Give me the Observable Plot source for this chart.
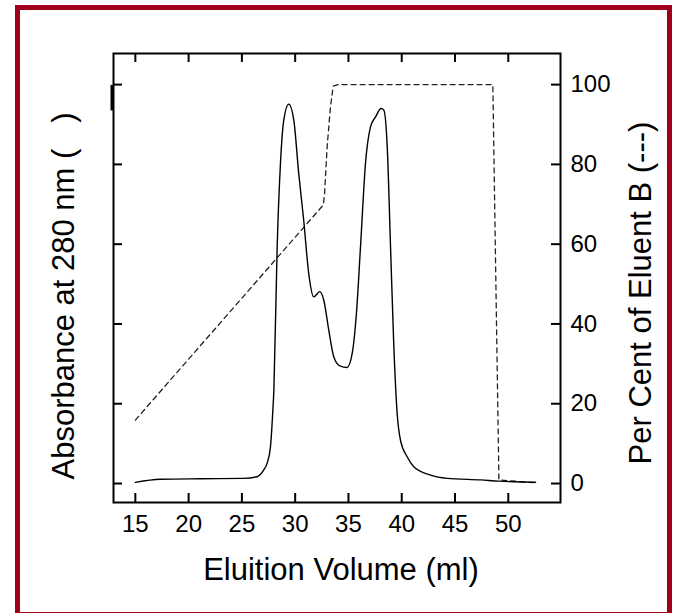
<!DOCTYPE html>
<html>
<head>
<meta charset="utf-8">
<script src="https://cdn.jsdelivr.net/npm/d3@7"></script>
<script src="https://cdn.jsdelivr.net/npm/@observablehq/plot@0.6"></script>
<style>
  html, body { margin: 0; padding: 0; background: #ffffff; }
  #wrap { position: relative; width: 673px; height: 613px; overflow: hidden; }
  #border { position: absolute; left: 15px; top: 5px; width: 657px; height: 612px;
            box-sizing: border-box; border: 5px solid #a0001b; pointer-events: none; }
  #wrap svg { position: absolute; left: 0; top: 0; }
</style>
</head>
<body>
<div id="wrap"><div id="border"></div></div>
<script>
// Absorbance at 280 nm (solid line), arbitrary units read on the right-hand scale
const absX = [15.0, 17.35, 21.1, 25.17, 26.43, 27.05, 27.37, 27.68, 27.89, 28.0, 28.31, 28.62, 28.93, 29.40,
              29.87, 30.33, 30.80, 31.27, 31.74, 32.31, 32.68, 33.15, 33.62, 34.19, 34.88, 35.35, 35.75,
              36.13, 36.60, 37.07, 37.54, 38.07, 38.32, 38.64, 38.95, 39.26, 39.57, 39.88, 40.51, 41.13,
              42.70, 44.27, 47.40, 49.12, 52.56];
const absY = [0.3, 1.05, 1.2, 1.3, 1.7, 3.4, 5.1, 9.2, 17.6, 23.4, 59.3, 80.3, 91.1, 95.1,
              91.1, 77.8, 66.0, 52.7, 46.8, 48.1, 46.0, 38.5, 31.8, 29.5, 29.1, 32.6, 42.7,
              59.3, 80.3, 89.4, 91.9, 94.0, 93.6, 84.4, 59.3, 34.3, 17.6, 10.9, 6.7, 4.2,
              2.1, 1.3, 0.9, 0.6, 0.3];

// Per cent of eluent B (dashed line)
const gradX = [15.0, 32.63, 32.75, 33.0, 33.31, 33.57, 34.0, 48.55, 49.12, 52.4];
const gradY = [15.9, 69.8, 72.3, 84.4, 94.4, 99.6, 100, 100, 0.9, 0.2];

// Axes
const xTicks = [15, 20, 25, 30, 35, 40, 45, 50];
const yTicks = [0, 20, 40, 60, 80, 100];
const xDomain = [12.95, 54.9];
const yDomain = [-4.76, 107.8];
const legendSolidSpan = [93.4, 99.8];

const xTitle = "Eluition Volume (ml)";
const yLeftTitle = "Absorbance at 280 nm (\u00a0\u00a0\u00a0)";
const yRightTitle = "Per Cent of Eluent B (---)";

const absData = absX.map((x, i) => ({x, y: absY[i]}));
const gradData = gradX.map((x, i) => ({x, y: gradY[i]}));

const W = 673, H = 613;
const mL = 113, mR = 113, mT = 53, mB = 111;
const fw = W - mL - mR, fh = H - mT - mB;
const tickLen = 9;

const chart = Plot.plot({
  width: W,
  height: H,
  marginLeft: mL,
  marginRight: mR,
  marginTop: mT,
  marginBottom: mB,
  style: {fontFamily: "'Liberation Sans', Arial, sans-serif", fontSize: "24px", background: "transparent", color: "#000"},
  x: {domain: xDomain, axis: null},
  y: {domain: yDomain, axis: null},
  marks: [
    Plot.line(gradData, {x: "x", y: "y", stroke: "#222", strokeWidth: 1.3, strokeDasharray: "5,4"}),
    Plot.line(absData, {x: "x", y: "y", stroke: "#000", strokeWidth: 1.4, curve: "monotone-x"}),
    Plot.frame({stroke: "#000", strokeWidth: 2}),
    // inward ticks
    Plot.tickX(xTicks, {x: d => d, insetTop: fh - tickLen, stroke: "#000", strokeWidth: 2}),
    Plot.tickX(xTicks, {x: d => d, insetBottom: fh - tickLen, stroke: "#000", strokeWidth: 2}),
    Plot.tickY(yTicks, {y: d => d, insetRight: fw - tickLen, stroke: "#000", strokeWidth: 2}),
    Plot.tickY(yTicks, {y: d => d, insetLeft: fw - tickLen, stroke: "#000", strokeWidth: 2}),
    // tick labels
    Plot.axisX({ticks: xTicks, anchor: "bottom", tickSize: 0, tickPadding: 12, fontSize: 24, label: null, tickFormat: d => String(d)}),
    Plot.axisY({ticks: yTicks, anchor: "right", tickSize: 0, tickPadding: 10, fontSize: 24, label: null, tickFormat: d => String(d)}),
    // legend sample stub at top of left axis
    Plot.ruleX([xDomain[0]], {y1: legendSolidSpan[0], y2: legendSolidSpan[1], stroke: "#000", strokeWidth: 3, dx: -1.5}),
    // titles
    Plot.text([xTitle], {text: d => d, frameAnchor: "bottom", textAnchor: "middle", dx: 4, dy: 77, lineAnchor: "bottom", fontSize: 31, fill: "#000"}),
    Plot.text([yLeftTitle], {text: d => d, frameAnchor: "left", textAnchor: "middle", dx: -40, dy: 18, rotate: -90, lineAnchor: "bottom", fontSize: 31, fill: "#000"}),
    Plot.text([yRightTitle], {text: d => d, frameAnchor: "right", textAnchor: "middle", dx: 90, dy: 15, rotate: -90, lineAnchor: "bottom", fontSize: 31, fill: "#000"})
  ]
});
document.getElementById("wrap").insertBefore(chart, document.getElementById("border"));
</script>
</body>
</html>
